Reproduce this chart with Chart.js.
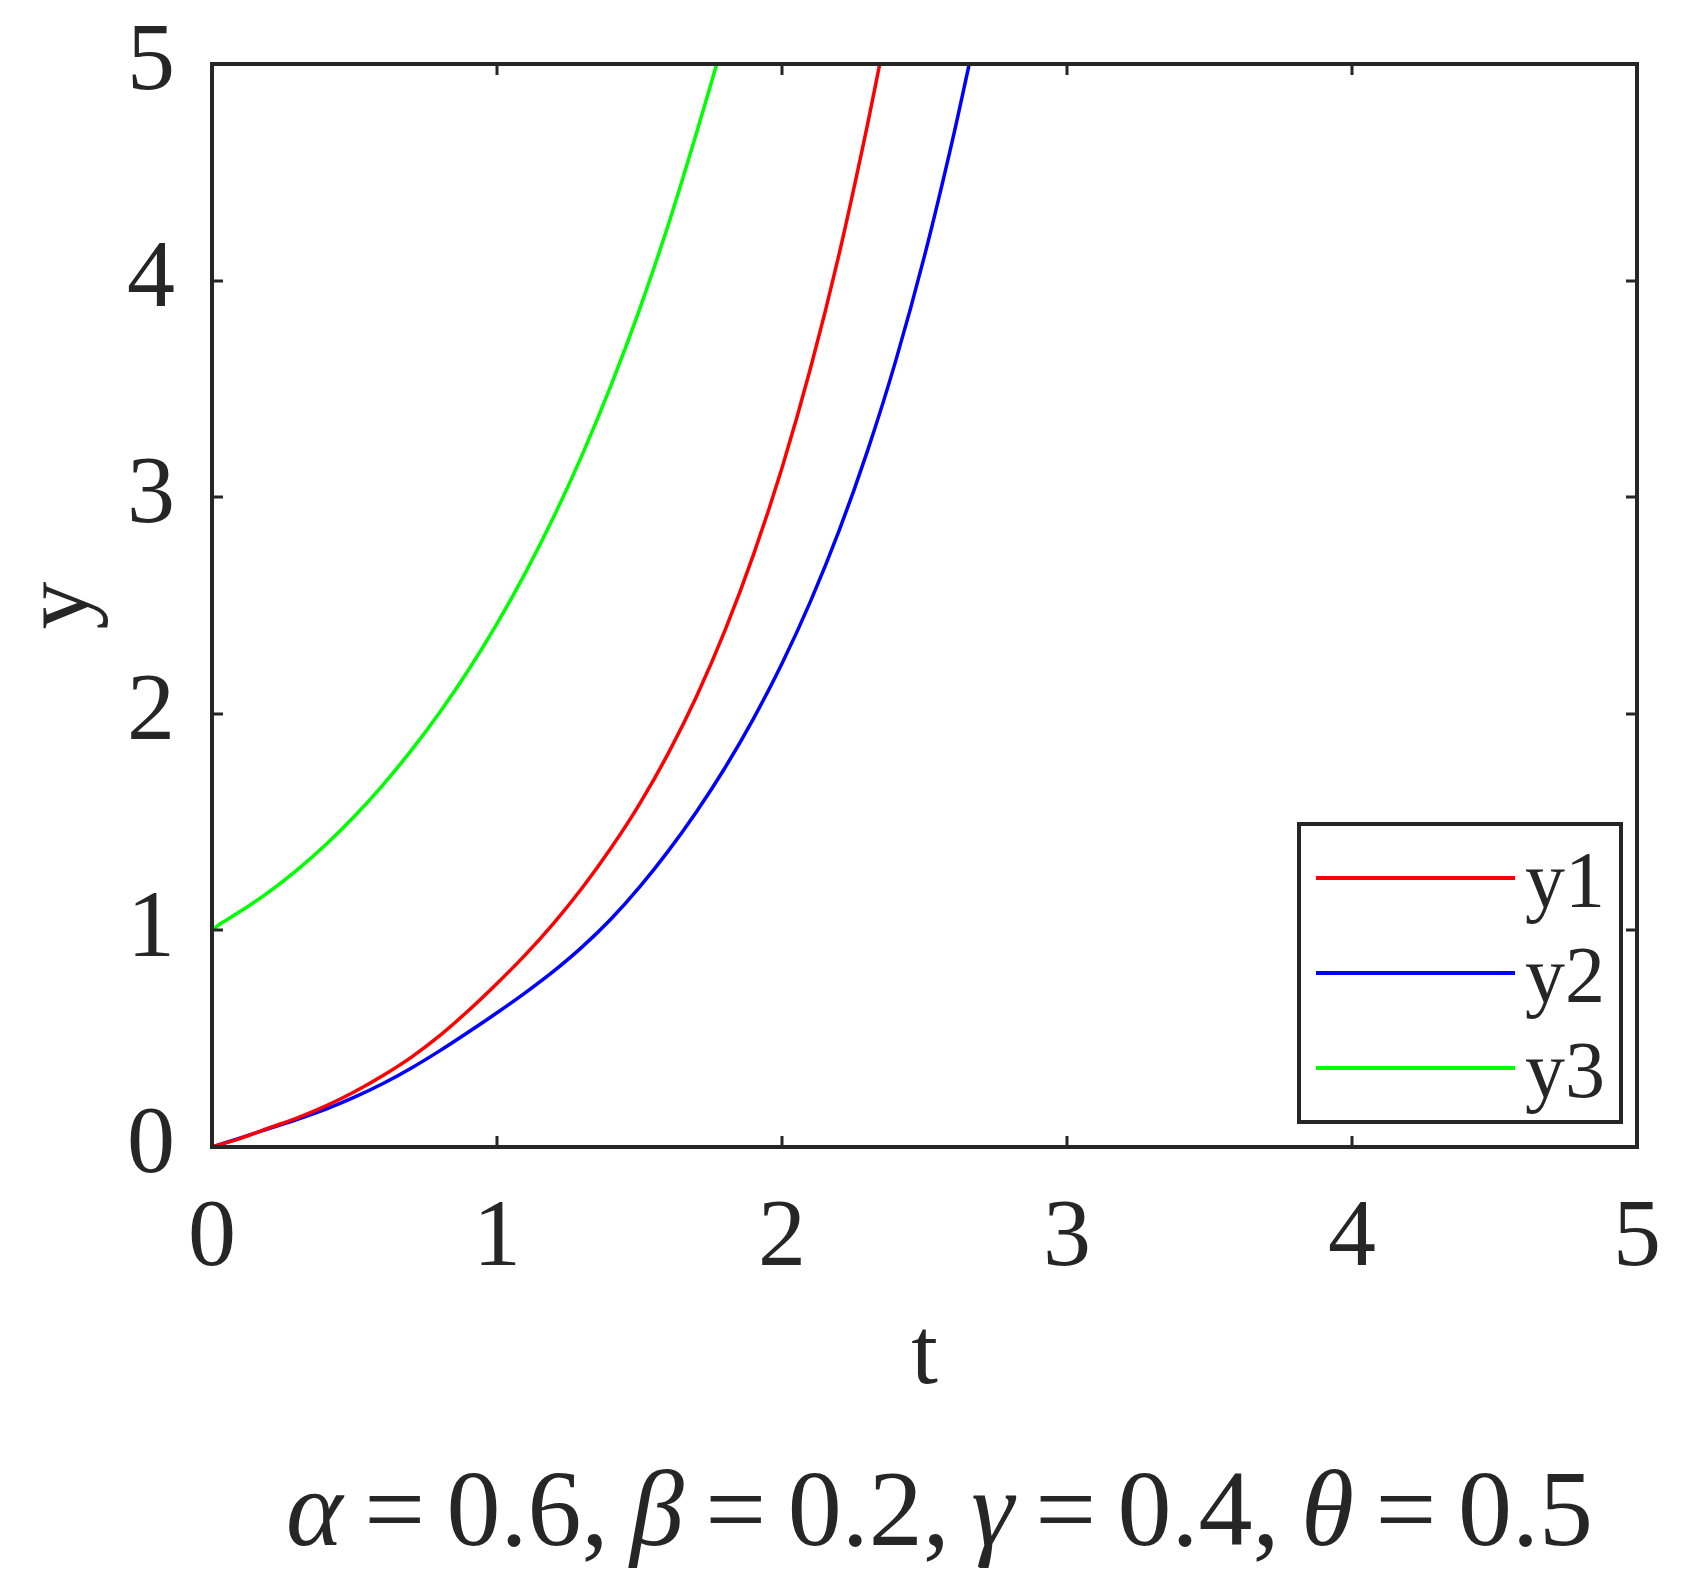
<!DOCTYPE html>
<html>
<head>
<meta charset="utf-8">
<script src="https://cdn.jsdelivr.net/npm/chart.js@4.4.1/dist/chart.umd.min.js"></script>
<style>
  html, body { margin: 0; padding: 0; background: #ffffff; }
  #wrap { width: 1690px; height: 1594px; }
</style>
</head>
<body>
<div id="wrap"><canvas id="c" width="1690" height="1594"></canvas></div>
<script>
// ---------------- data ----------------
const seriesLabels = ['y1', 'y2', 'y3'];
const seriesColors = ['#ff0000', '#0000ff', '#00ff00'];

const y1T = [0, 0.1, 0.2, 0.3, 0.4, 0.5, 0.6, 0.7, 0.8, 0.9, 1.0, 1.1, 1.2, 1.3, 1.4, 1.5, 1.6, 1.7, 1.8, 1.9, 2.0, 2.1, 2.2, 2.3, 2.343];
const y1V = [0, 0.04, 0.088, 0.135, 0.19, 0.255, 0.33, 0.415, 0.515, 0.63, 0.755, 0.888, 1.035, 1.198, 1.38, 1.583, 1.815, 2.08, 2.385, 2.735, 3.135, 3.595, 4.12, 4.72, 5.0];

const y2T = [0, 0.1, 0.2, 0.3, 0.4, 0.5, 0.6, 0.7, 0.8, 0.9, 1.0, 1.1, 1.2, 1.3, 1.4, 1.5, 1.6, 1.7, 1.8, 1.9, 2.0, 2.1, 2.2, 2.3, 2.4, 2.5, 2.6, 2.657];
const y2V = [0, 0.042, 0.085, 0.128, 0.175, 0.23, 0.293, 0.365, 0.445, 0.531, 0.620, 0.713, 0.813, 0.925, 1.053, 1.20, 1.365, 1.548, 1.751, 1.978, 2.232, 2.519, 2.844, 3.214, 3.634, 4.114, 4.659, 5.0];

const y3T = [0, 0.02, 0.05, 0.1, 0.2, 0.3, 0.4, 0.5, 0.6, 0.7, 0.8, 0.9, 1.0, 1.1, 1.2, 1.3, 1.4, 1.5, 1.6, 1.7, 1.771];
const y3V = [1.0, 1.022, 1.047, 1.088, 1.178, 1.281, 1.397, 1.527, 1.672, 1.832, 2.008, 2.202, 2.416, 2.652, 2.912, 3.199, 3.516, 3.866, 4.253, 4.681, 5.0];

const xTickValues = [0, 1, 2, 3, 4, 5];
const yTickValues = [0, 1, 2, 3, 4, 5];
const xTitle = 't';
const yTitle = 'y';
const captionParts = [
  ['α', true], [' = 0.6, ', false],
  ['β', true], [' = 0.2, ', false],
  ['γ', true], [' = 0.4, ', false],
  ['θ', true], [' = 0.5', false]
];

// ---------------- font pick ----------------
function pickFont(cands, fallback) {
  const c = document.createElement('canvas').getContext('2d');
  const probe = 'y0123456789αβγθ=';
  for (const f of cands) {
    for (const g of ['monospace', 'sans-serif']) {
      c.font = '72px ' + g;
      const w0 = c.measureText(probe).width;
      c.font = '72px "' + f + '", ' + g;
      if (Math.abs(c.measureText(probe).width - w0) > 0.5) return '"' + f + '", serif';
    }
  }
  return fallback;
}
const FONT = pickFont(['Liberation Serif', 'Times New Roman', 'Tinos', 'Nimbus Roman', 'Nimbus Roman No9 L', 'FreeSerif', 'Noto Serif', 'DejaVu Serif'], 'serif');
const INK = '#262626';

// ---------------- chart ----------------
const seriesT = [y1T, y2T, y3T];
const seriesV = [y1V, y2V, y3V];
const datasets = seriesLabels.map((lab, i) => ({
  label: lab,
  data: seriesT[i].map((t, k) => ({ x: t, y: seriesV[i][k] })),
  borderColor: seriesColors[i],
  backgroundColor: seriesColors[i],
  borderWidth: 3.5,
  pointRadius: 0,
  showLine: true,
  cubicInterpolationMode: 'monotone',
  fill: false
}));

const framePlugin = {
  id: 'frame',
  afterDatasetsDraw(chart) {
    const ctx = chart.ctx;
    const a = chart.chartArea;
    const xs = chart.scales.x, ys = chart.scales.y;
    ctx.save();
    ctx.strokeStyle = INK;
    ctx.lineWidth = 3;
    const tl = 11;
    ctx.beginPath();
    xTickValues.forEach(v => {
      const px = Math.round(xs.getPixelForValue(v));
      ctx.moveTo(px, a.bottom); ctx.lineTo(px, a.bottom - tl);
      ctx.moveTo(px, a.top); ctx.lineTo(px, a.top + tl);
    });
    yTickValues.forEach(v => {
      const py = Math.round(ys.getPixelForValue(v));
      ctx.moveTo(a.left, py); ctx.lineTo(a.left + tl, py);
      ctx.moveTo(a.right, py); ctx.lineTo(a.right - tl, py);
    });
    ctx.stroke();
    ctx.lineWidth = 4;
    ctx.strokeRect(a.left, a.top, a.right - a.left, a.bottom - a.top);
    ctx.restore();
  },
  afterDraw(chart) {
    const ctx = chart.ctx;
    const a = chart.chartArea;
    ctx.save();
    // legend box (inside, lower right)
    const lw = 322, lh = 298;
    const lx = a.right - 16 - lw, ly = a.bottom - 25 - lh;
    ctx.fillStyle = '#ffffff';
    ctx.fillRect(lx, ly, lw, lh);
    ctx.strokeStyle = INK;
    ctx.lineWidth = 4;
    ctx.strokeRect(lx, ly, lw, lh);
    chart.data.datasets.forEach((ds, i) => {
      const ry = ly + 54 + i * 95;
      ctx.strokeStyle = ds.borderColor;
      ctx.lineWidth = 4;
      ctx.beginPath();
      ctx.moveTo(lx + 17, ry);
      ctx.lineTo(lx + 216, ry);
      ctx.stroke();
      ctx.fillStyle = INK;
      ctx.font = '80px ' + FONT;
      ctx.textAlign = 'left';
      ctx.textBaseline = 'alphabetic';
      ctx.fillText(ds.label, lx + 226, ry + 29);
    });
    // caption under the axes
    const size = 108;
    const left = 286, right = 1593, base = 1545;
    const fontFor = it => (it ? 'italic ' : '') + size + 'px ' + FONT;
    let natural = 0, spaces = 0;
    captionParts.forEach(([txt, it]) => {
      ctx.font = fontFor(it);
      natural += ctx.measureText(txt).width;
      spaces += (txt.match(/ /g) || []).length;
    });
    const extra = spaces ? ((right - left) - natural) / spaces : 0;
    let x = left;
    ctx.fillStyle = INK;
    ctx.textBaseline = 'alphabetic';
    ctx.textAlign = 'left';
    captionParts.forEach(([txt, it]) => {
      ctx.font = fontFor(it);
      for (const ch of txt) {
        ctx.fillText(ch, x, base);
        x += ctx.measureText(ch).width + (ch === ' ' ? extra : 0);
      }
    });
    ctx.restore();
  }
};

new Chart(document.getElementById('c'), {
  type: 'scatter',
  data: { datasets },
  options: {
    responsive: false,
    animation: false,
    devicePixelRatio: 1,
    layout: { autoPadding: false, padding: { left: 0, right: 53, top: 64, bottom: 179 } },
    plugins: { legend: { display: false }, tooltip: { enabled: false } },
    scales: {
      x: {
        type: 'linear', min: 0, max: 5,
        afterBuildTicks: s => { s.ticks = xTickValues.map(v => ({ value: v })); },
        afterFit: s => { s.height = 268; s.paddingLeft = 0; s.paddingRight = 0; s.paddingTop = 0; s.paddingBottom = 0; },
        grid: { display: false, drawTicks: false },
        border: { display: false },
        ticks: { color: INK, padding: 35, font: { family: FONT, size: 96 }, maxRotation: 0, callback: v => String(v) },
        title: { display: true, text: xTitle, color: INK, padding: 0, font: { family: FONT, size: 96 } }
      },
      y: {
        type: 'linear', min: 0, max: 5,
        afterBuildTicks: s => { s.ticks = yTickValues.map(v => ({ value: v })); },
        afterFit: s => { s.width = 212; s.paddingLeft = 0; s.paddingRight = 0; s.paddingTop = 0; s.paddingBottom = 0; },
        grid: { display: false, drawTicks: false },
        border: { display: false },
        ticks: { color: INK, padding: 37, font: { family: FONT, size: 96 }, callback: v => String(v) },
        title: { display: true, text: yTitle, color: INK, padding: { top: 5, bottom: 0 }, font: { family: FONT, size: 96 } }
      }
    }
  },
  plugins: [framePlugin]
});
</script>
</body>
</html>
